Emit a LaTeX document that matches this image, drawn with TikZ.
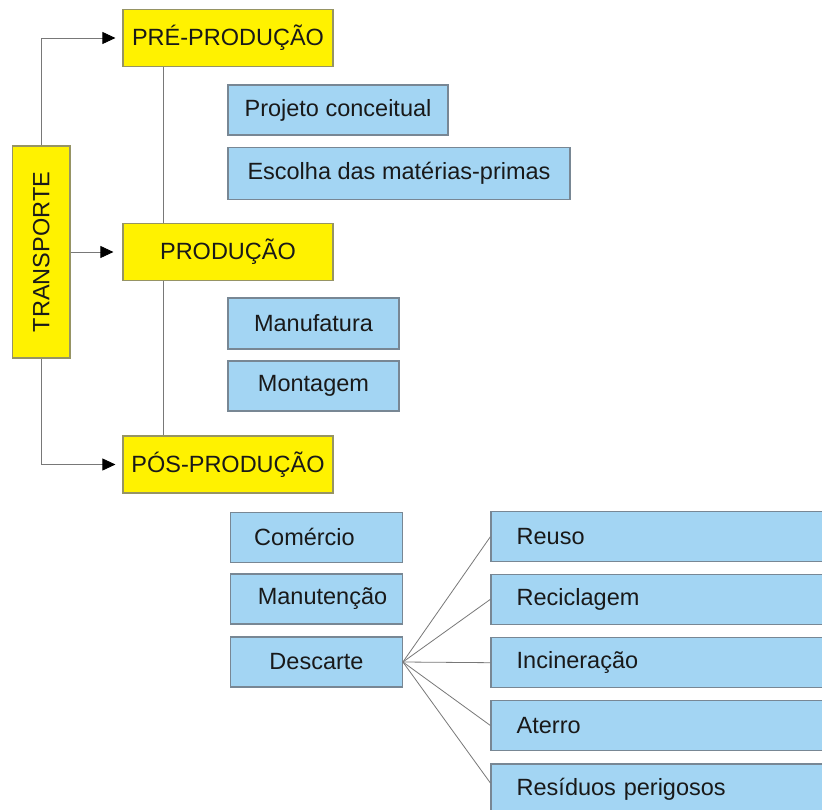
\documentclass[tikz,border=0pt]{standalone}
\usepackage{fontspec}
\setmainfont{Liberation Sans}
\usetikzlibrary{arrows.meta,calc}
\definecolor{ybox}{RGB}{255,242,0}
\definecolor{yborder}{RGB}{150,148,100}
\definecolor{bbox}{RGB}{163,213,243}
\definecolor{bborder}{RGB}{120,135,148}
\definecolor{conn}{RGB}{120,120,120}
\definecolor{txt}{RGB}{25,25,25}
\begin{document}
\begin{tikzpicture}[x=1pt,y=-1pt,
  every node/.style={font=\fontsize{23.5}{28}\selectfont, text=txt},
  yellowbox/.style={draw=yborder, line width=1.2pt, fill=ybox, rectangle, inner sep=0pt, minimum width=210pt, minimum height=57pt},
  bluebox/.style={draw=bborder, line width=1.2pt, fill=bbox, rectangle, inner sep=0pt, minimum height=50pt},
  rightbox/.style={draw=bborder, line width=1.2pt, fill=bbox, rectangle, inner xsep=25.7pt, inner ysep=0pt, text width=320pt, align=left, minimum height=50pt},
  link/.style={draw=conn, line width=0.8pt},
  arr/.style={link, -{Triangle[length=13pt,width=12pt,color=black]}, shorten >=7pt}
]
\useasboundingbox (0,0) rectangle (822,810);
\fill[white] (0,0) rectangle (822,810);

% yellow boxes
\node[yellowbox, minimum width=57.3pt, minimum height=212pt] (tr) at (41.3,252) {};
\node[rotate=90] (trt) at (41.3,252) {TRANSPORTE};
\node[yellowbox] (pre) at (228,38) {PRÉ-PRODUÇÃO};
\node[yellowbox] (prod) at (228,252) {PRODUÇÃO};
\node[yellowbox] (pos) at (228,464.5) {PÓS-PRODUÇÃO};

% blue boxes
\node[bluebox, minimum width=220pt] (proj) at (338,110) {Projeto conceitual};
\node[bluebox, minimum width=342pt, minimum height=52pt] (esc) at (399,173.7) {Escolha das matérias-primas};
\node[bluebox, minimum width=171pt, minimum height=51pt] (manuf) at (313.5,323.5) {Manufatura};
\node[bluebox, minimum width=171pt] (mont) at (313.5,386) {Montagem};
\node[bluebox, minimum width=171.6pt] (com) at (316.5,537.3) {Comércio\hspace*{24pt}};
\node[bluebox, minimum width=171.6pt] (manut) at (316.5,599) {\hspace*{12pt}Manutenção};
\node[bluebox, minimum width=171.6pt] (desc) at (316.5,662) {Descarte};

% right boxes
\node[rightbox] (reuso) at (676.7,536.7) {Reuso};
\node[rightbox] (recic) at (676.7,599.3) {Reciclagem};
\node[rightbox] (incin) at (676.7,662.7) {Incineração};
\node[rightbox] (ater) at (676.7,725.5) {Aterro};
\node[rightbox] (resid) at (676.7,789) {Resíduos perigosos};

% connectors
\draw[arr] (tr.north) |- (pre.west);
\draw[arr, shorten >=9pt] (tr.east) -- (prod.west);
\draw[arr] (tr.south) |- (pos.west);
\draw[link] ($(pre.south west)+(41.3,0)$) -- ($(prod.north west)+(41.3,0)$);
\draw[link] ($(prod.south west)+(41.3,0)$) -- ($(pos.north west)+(41.3,0)$);
\draw[link] (desc.east) -- (reuso.west);
\draw[link] (desc.east) -- (recic.west);
\draw[link] (desc.east) -- (incin.west);
\draw[link] (desc.east) -- (ater.west);
\draw[link] (desc.east) -- ($(resid.west)+(0,-6)$);
\end{tikzpicture}
\end{document}
